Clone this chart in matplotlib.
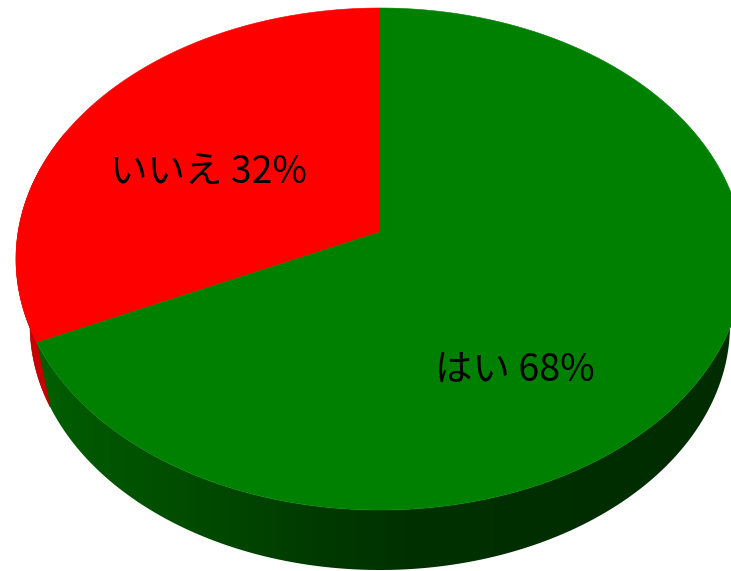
import matplotlib
matplotlib.use("Agg")
import matplotlib.pyplot as plt
import numpy as np
from matplotlib.colors import LinearSegmentedColormap
from matplotlib.patches import Polygon

labels = ["いいえ", "はい"]
values = [32, 68]
colors = ["#ff0000", "#008000"]
side_red = "#c80000"

# top ellipse, bottom ellipse and where the pie centre lands (pixels)
CX, CY, A, B = 380, 259, 364, 251
BCY, BA, BB = 325, 350, 245
P = (CY - 232) / B


def project(theta):
    # theta is clockwise from 12 o'clock, perspective squeezes the far half
    u = np.sin(theta)
    v = np.cos(theta)
    d = 1 + P * v
    return u * np.sqrt(1 - P * P) / d, (v + P) / d


def wall(t):
    # outline of the side wall between the top rim and the bottom rim
    xs = np.concatenate([CX + A * np.cos(t), CX + BA * np.cos(t[::-1])])
    ys = np.concatenate([CY - B * np.sin(t), BCY - BB * np.sin(t[::-1])])
    return np.column_stack([xs, ys])


fig = plt.figure(figsize=(7.31, 5.71), dpi=100)
ax = fig.add_axes([0, 0, 1, 1])

# angle where the red slice ends, counter clockwise from the top
split = -2 * np.pi * values[0] / sum(values)
su, sv = project(split)
split_param = np.arctan2(sv, su) % (2 * np.pi)

# side wall, horizontal gradient clipped to the wall shape
stops = [(0.0, (0, 96 / 255, 0)), (0.1, (0, 86 / 255, 0)), (0.27, (0, 72 / 255, 0)),
         (0.41, (0, 58 / 255, 0)), (0.55, (0, 48 / 255, 0)), (1.0, (0, 44 / 255, 0))]
cmap = LinearSegmentedColormap.from_list("side", stops)
img = ax.imshow(np.linspace(0, 1, 256).reshape(1, -1), cmap=cmap, aspect="auto",
                extent=(30, 731, 571, 200), zorder=1)
clip = Polygon(wall(np.radians(np.arange(150, 391, 1.0))), transform=ax.transData,
               fc="none", ec="none")
ax.add_patch(clip)
img.set_clip_path(clip)
ax.add_patch(Polygon(wall(np.linspace(np.radians(150), split_param, 100)),
                     fc=side_red, ec=side_red, lw=0.4, zorder=1.5))

# top faces
start = 0.0
total = sum(values)
for val, col in zip(values, colors):
    a1 = start - 2 * np.pi * val / total
    th = np.linspace(start, a1, 300)
    u, v = project(th)
    xs = np.concatenate([[CX], CX + A * u])
    ys = np.concatenate([[CY - B * P], CY - B * v])
    ax.fill(xs, ys, color=col, lw=0.4, zorder=2)
    start = a1

font = ["Noto Sans CJK JP", "DejaVu Sans"]
ax.text(209, 172, f"{labels[0]} {values[0]}%", ha="center", va="center",
        fontsize=27, family=font, color="black", zorder=3)
ax.text(515, 370, f"{labels[1]} {values[1]}%", ha="center", va="center",
        fontsize=27, family=font, color="black", zorder=3)

ax.set_xlim(0, 731)
ax.set_ylim(571, 0)
ax.axis("off")

fig.savefig("out.png", dpi=100)
